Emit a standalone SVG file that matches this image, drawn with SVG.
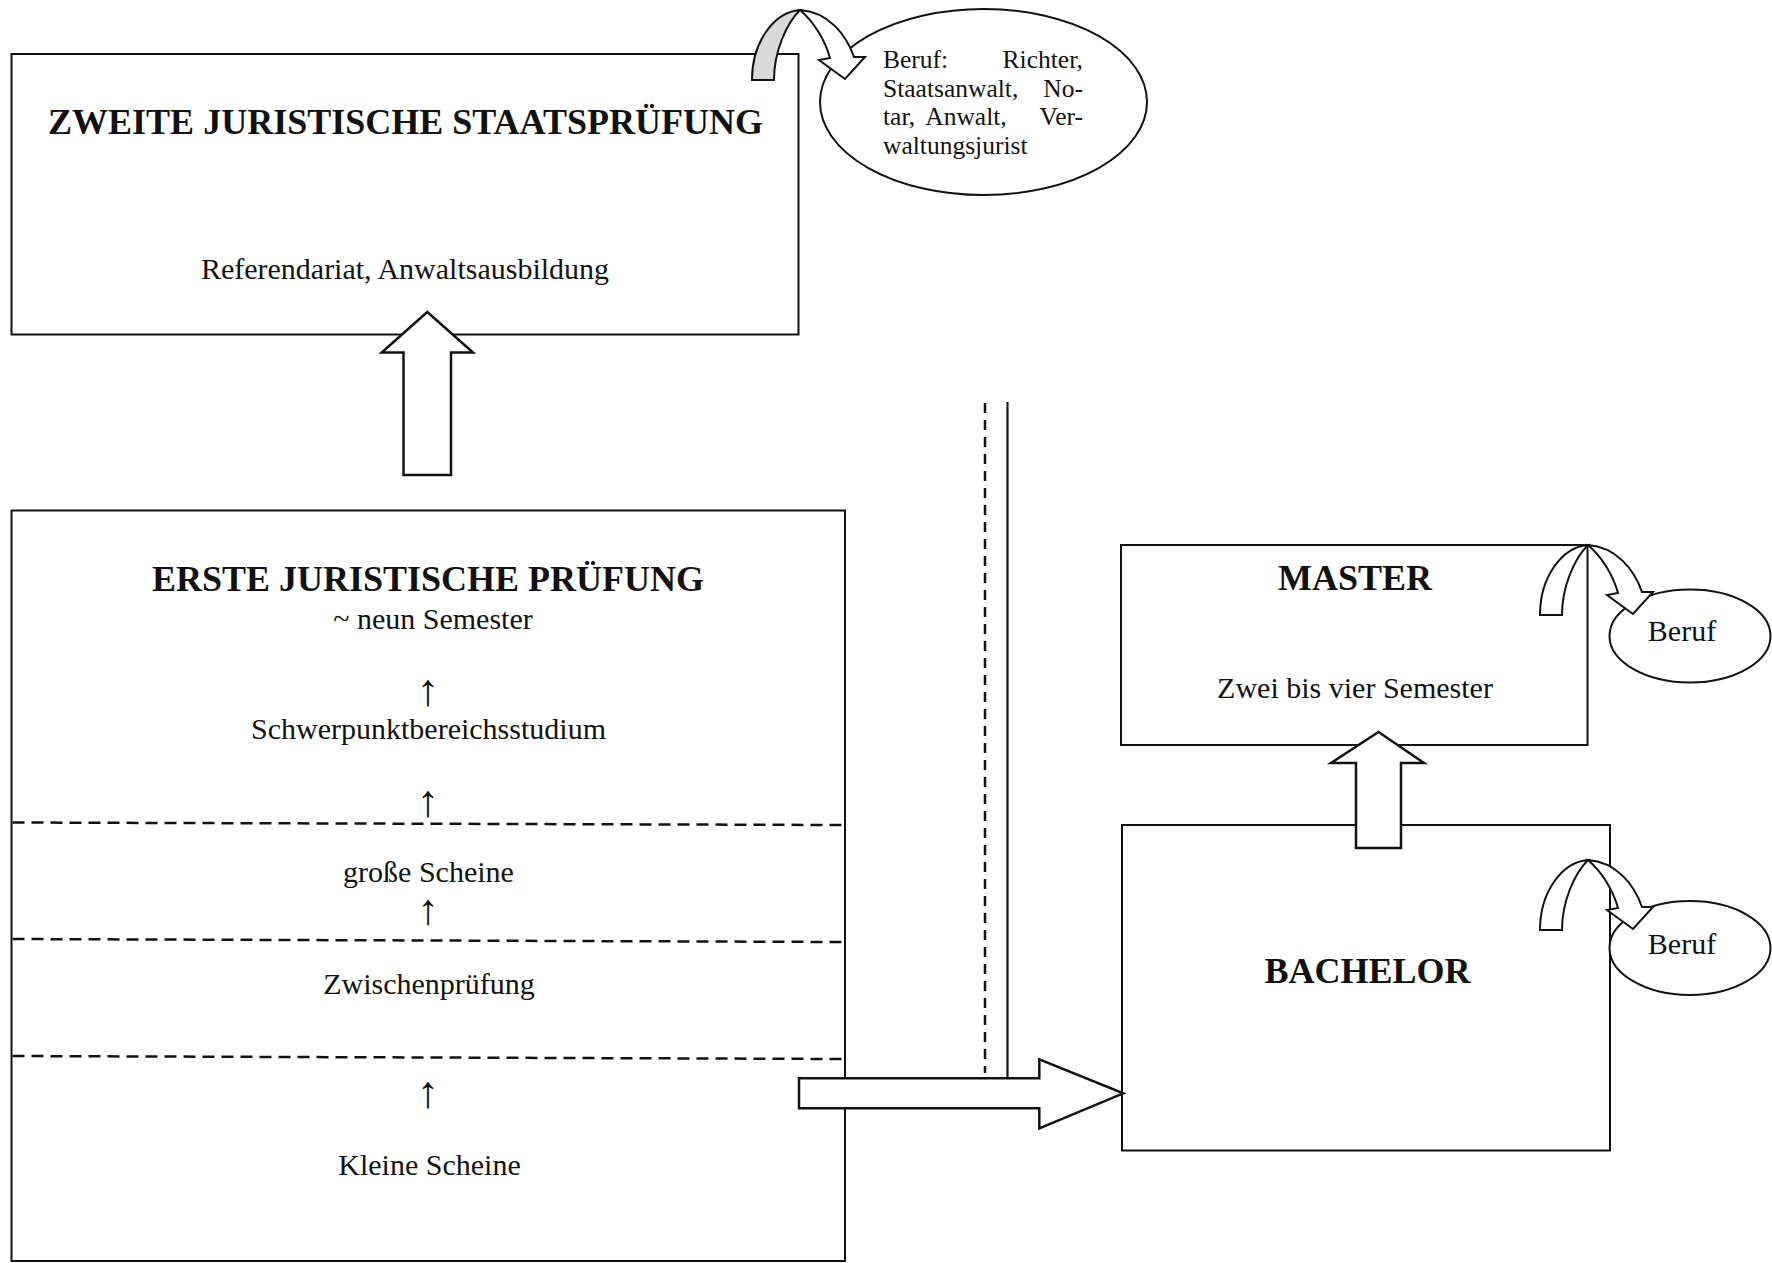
<svg xmlns="http://www.w3.org/2000/svg" width="1772" height="1263" viewBox="0 0 1772 1263">
<style>
  .box{fill:#fff;stroke:#111;stroke-width:2}
  .ell{fill:#fff;stroke:#111;stroke-width:2}
  .blk{fill:#fff;stroke:#111;stroke-width:2.5;stroke-linejoin:miter}
  .dash{stroke:#111;stroke-width:2.5;stroke-dasharray:12 7;fill:none}
  .vdash{stroke:#111;stroke-width:2.5;stroke-dasharray:10 7;fill:none}
  .solid{stroke:#111;stroke-width:2.2;fill:none}
  .t{font-family:"Liberation Serif","Times New Roman",serif;fill:#111}
  .h{font-size:36px;font-weight:bold;text-anchor:middle}
  .n{font-size:30px;text-anchor:middle}
  .a{font-size:45px;text-anchor:middle}
  .s{font-size:25.5px}
  .up{fill:#fff;stroke:#111;stroke-width:2}
  .upg{fill:#dadada;stroke:#111;stroke-width:2}
</style>
<defs>
  <path id="curve-rise" d="M -48,70 C -48,32 -26,2 0,0 C -14,14 -26,42 -26,70 Z"/>
  <path id="curve-fall" d="M 0,0 C 28,2 46,24 54,47 L 65,47 L 45,69 L 19,50 L 30,48 C 25,30 14,12 0,0 Z"/>
</defs>
<rect width="1772" height="1263" fill="#fff"/>

<g id="zweite">
  <rect class="box" x="11.5" y="54" width="787" height="280.5"/>
  <text class="t h" x="405.5" y="134">ZWEITE JURISTISCHE STAATSPRÜFUNG</text>
  <text class="t n" x="405" y="279">Referendariat, Anwaltsausbildung</text>
</g>

<g id="beruf-top">
  <ellipse class="ell" cx="983.5" cy="102" rx="163.5" ry="93"/>
  <text class="t s" y="68"><tspan x="883">Beruf:</tspan><tspan x="1083" text-anchor="end">Richter,</tspan></text>
  <text class="t s" y="96.5"><tspan x="883">Staatsanwalt,</tspan><tspan x="1083" text-anchor="end">No-</tspan></text>
  <text class="t s" y="125"><tspan x="883">tar,</tspan><tspan x="966" text-anchor="middle">Anwalt,</tspan><tspan x="1083" text-anchor="end">Ver-</tspan></text>
  <text class="t s" y="154"><tspan x="883">waltungsjurist</tspan></text>
</g>

<g id="erste">
  <rect class="box" x="11.5" y="510.5" width="833.5" height="750.5"/>
  <line class="dash" x1="12.5" y1="822.5" x2="844" y2="825"/>
  <line class="dash" x1="12.5" y1="939" x2="844" y2="942"/>
  <line class="dash" x1="12.5" y1="1056" x2="844" y2="1059"/>
  <text class="t h" x="428" y="591">ERSTE JURISTISCHE PRÜFUNG</text>
  <text class="t n" x="433" y="629">~ neun Semester</text>
  <text class="t a" x="428" y="705">↑</text>
  <text class="t n" x="428.5" y="738.5">Schwerpunktbereichsstudium</text>
  <text class="t a" x="428" y="816">↑</text>
  <text class="t n" x="428.5" y="882">große Scheine</text>
  <text class="t a" x="428" y="924" style="font-size:43px">↑</text>
  <text class="t n" x="429" y="994">Zwischenprüfung</text>
  <text class="t a" x="428" y="1107">↑</text>
  <text class="t n" x="429.5" y="1174.5">Kleine Scheine</text>
</g>

<g id="divider">
  <line class="vdash" x1="985" y1="403" x2="985" y2="1073"/>
  <line class="solid" x1="1007.5" y1="402" x2="1007.5" y2="1078"/>
</g>

<g id="master">
  <rect class="box" x="1121" y="545" width="466.5" height="200"/>
  <text class="t h" x="1355" y="590">MASTER</text>
  <text class="t n" x="1355" y="697.5">Zwei bis vier Semester</text>
</g>

<g id="beruf-master">
  <ellipse class="ell" cx="1690" cy="636" rx="80.5" ry="46.5"/>
  <text class="t n" x="1682" y="640.5">Beruf</text>
</g>

<g id="bachelor">
  <rect class="box" x="1122" y="825" width="488" height="325.5"/>
  <text class="t h" x="1367.5" y="983">BACHELOR</text>
</g>

<g id="beruf-bachelor">
  <ellipse class="ell" cx="1690" cy="948" rx="80.5" ry="47"/>
  <text class="t n" x="1682" y="954">Beruf</text>
</g>

<g id="connectors">
  <polygon class="blk" points="403.5,475 451,475 451,352.5 473,352.5 427.3,312 381.7,352.5 403.5,352.5"/>
  <polygon class="blk" points="1356,848 1401,848 1401,763 1424,763 1378.5,732 1331,763 1356,763"/>
  <polygon class="blk" points="799,1078.3 1039.3,1078.3 1039.3,1059.3 1123.3,1093.3 1039.3,1128.3 1039.3,1108.3 799,1108.3"/>
  <g transform="translate(800,10)">
    <use href="#curve-rise" class="upg"/>
    <use href="#curve-fall" class="up"/>
  </g>
  <g transform="translate(1588,545)">
    <use href="#curve-rise" class="up"/>
    <use href="#curve-fall" class="up"/>
  </g>
  <g transform="translate(1588,860)">
    <use href="#curve-rise" class="up"/>
    <use href="#curve-fall" class="up"/>
  </g>
</g>
</svg>
